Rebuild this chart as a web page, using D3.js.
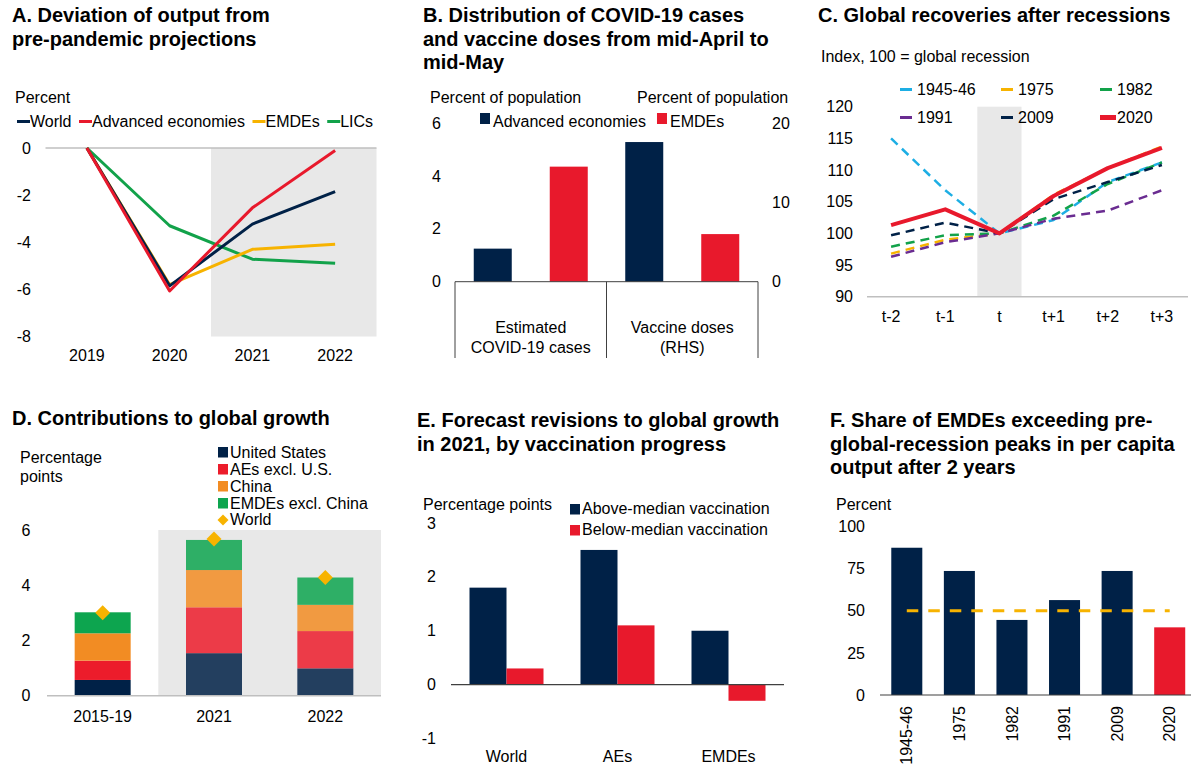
<!DOCTYPE html>
<html>
<head>
<meta charset="utf-8">
<script src="https://cdn.jsdelivr.net/npm/d3@7"></script>
<style>
  html, body { margin: 0; padding: 0; background: #fff; }
  svg { display: block; font-family: "Liberation Sans", Arial, sans-serif; }
  .title { font-weight: bold; font-size: 20px; fill: #000; }
  .lbl { font-size: 16px; fill: #000; }
</style>
</head>
<body>
<svg id="chart" width="1191" height="767"></svg>
<script>
// ---------- Data ----------
// Panel A: deviation of output from pre-pandemic projections (percent)
const aYears = ["2019", "2020", "2021", "2022"];
const aWorld = [0, -5.85, -3.23, -1.85];
const aAdvanced = [0, -6.07, -2.54, -0.11];
const aEMDEs = [0, -5.8, -4.3, -4.09];
const aLICs = [0, -3.3, -4.72, -4.89];
const aTicks = [0, -2, -4, -6, -8];

// Panel B: COVID-19 cases (LHS) and vaccine doses (RHS), percent of population
const bCategories = ["Estimated\nCOVID-19 cases", "Vaccine doses\n(RHS)"];
const bAdvanced = [1.25, 17.6];
const bEMDEs = [4.35, 6.0];
const bLeftTicks = [0, 2, 4, 6];
const bRightTicks = [0, 10, 20];

// Panel C: global recoveries, index 100 = global recession year
const cPeriods = ["t-2", "t-1", "t", "t+1", "t+2", "t+3"];
const c1945 = [115.0, 106.8, 100, 102.1, 108.1, 111.2];
const c1975 = [96.8, 99.0, 100, 106.1, 110.3, 113.7];
const c1982 = [97.9, 99.7, 100, 102.8, 107.8, 111.2];
const c1991 = [96.3, 98.6, 100, 102.3, 103.6, 106.8];
const c2009 = [99.7, 101.7, 100, 105.4, 108.1, 110.8];
const c2020 = [101.3, 103.8, 100, 105.9, 110.3, 113.5];
const cTicks = [90, 95, 100, 105, 110, 115, 120];

// Panel D: contributions to global growth (percentage points)
const dPeriods = ["2015-19", "2021", "2022"];
const dUS = [0.57, 1.54, 0.99];
const dAEsExUS = [0.70, 1.66, 1.35];
const dChina = [0.99, 1.35, 0.95];
const dEMDEsExChina = [0.76, 1.09, 0.99];
const dWorld = [3.0, 5.67, 4.28];
const dTicks = [0, 2, 4, 6];

// Panel E: forecast revisions to 2021 global growth (percentage points)
const eGroups = ["World", "AEs", "EMDEs"];
const eAbove = [1.8, 2.5, 1.0];
const eBelow = [0.3, 1.1, -0.3];
const eTicks = [-1, 0, 1, 2, 3];

// Panel F: share of EMDEs exceeding pre-recession peaks after 2 years (percent)
const fRecessions = ["1945-46", "1975", "1982", "1991", "2009", "2020"];
const fShare = [87.5, 73.7, 44.6, 56.4, 73.7, 40.2];
const fReference = 50;
const fTicks = [0, 25, 50, 75, 100];

// ---------- Palette ----------
const NAVY = "#002147", RED = "#E8192C", AMBER = "#F7B300", GREEN = "#12A24A",
      SKY = "#1DAEE4", PURPLE = "#6A2C91", ORANGE = "#F28C23", SHADE = "#E8E8E8",
      AXIS_LIGHT = "#BFBFBF", AXIS_DARK = "#404040";

const svg = d3.select("#chart");

function title(x, y, lines) {
  const t = svg.append("text").attr("class", "title").attr("x", x).attr("y", y);
  lines.forEach((s, i) => t.append("tspan").attr("x", x).attr("dy", i ? 23.5 : 0).text(s));
}
function label(g, x, y, s, anchor) {
  return g.append("text").attr("class", "lbl").attr("x", x).attr("y", y)
    .attr("text-anchor", anchor || "start").text(s);
}
function yTickLabels(g, scale, ticks, x, anchor, fmt) {
  g.selectAll(null).data(ticks).join("text").attr("class", "lbl")
    .attr("x", x).attr("y", d => scale(d)).attr("dy", "0.35em")
    .attr("text-anchor", anchor).text(fmt || (d => d));
}

// ================= Panel A =================
(function () {
  const g = svg.append("g");
  title(12, 22, ["A. Deviation of output from", "pre-pandemic projections"]);
  const xb = d3.scaleBand().domain(aYears).range([45.5, 376.5]);
  const x = d => xb(d) + xb.bandwidth() / 2;
  const y = d3.scaleLinear().domain([-8, 0]).range([336.5, 148]);

  // projection period shading
  g.append("rect").attr("x", xb("2021")).attr("y", y(0))
    .attr("width", xb.range()[1] - xb("2021")).attr("height", y(-8) - y(0)).attr("fill", SHADE);
  g.append("line").attr("x1", xb.range()[0]).attr("x2", xb.range()[1])
    .attr("y1", y(0)).attr("y2", y(0)).attr("stroke", AXIS_LIGHT).attr("stroke-width", 1.5);

  yTickLabels(g, y, aTicks, 31, "end");
  g.selectAll(null).data(aYears).join("text").attr("class", "lbl")
    .attr("x", d => x(d)).attr("y", 361).attr("text-anchor", "middle").text(d => d);

  label(g, 15, 103, "Percent");

  const series = [
    { name: "World", values: aWorld, color: NAVY },
    { name: "Advanced economies", values: aAdvanced, color: RED },
    { name: "EMDEs", values: aEMDEs, color: AMBER },
    { name: "LICs", values: aLICs, color: GREEN }
  ];
  const line = d3.line().x((d, i) => x(aYears[i])).y(d => y(d));
  // draw LICs first so the main aggregates sit on top
  [3, 2, 0, 1].forEach(k => {
    g.append("path").attr("d", line(series[k].values)).attr("fill", "none")
      .attr("stroke", series[k].color).attr("stroke-width", 3).attr("stroke-linejoin", "round");
  });

  // legend
  let lx = 17;
  series.forEach(s => {
    g.append("line").attr("x1", lx).attr("x2", lx + 13).attr("y1", 121.5).attr("y2", 121.5)
      .attr("stroke", s.color).attr("stroke-width", 3);
    const t = label(g, lx + 13, 127, s.name);
    lx += 13 + t.node().getComputedTextLength() + 7.5;
  });
})();

// ================= Panel B =================
(function () {
  const g = svg.append("g");
  title(423, 22, ["B. Distribution of COVID-19 cases", "and vaccine doses from mid-April to", "mid-May"]);
  const x = d3.scaleBand().domain(bCategories).range([455, 758]);
  const inner = d3.scaleBand().domain(["AE", "EMDE"]).range([-57, 57]).paddingInner(0.5);
  const yL = d3.scaleLinear().domain([0, 6]).range([281.7, 123]);
  const yR = d3.scaleLinear().domain([0, 20]).range([281.7, 123]);

  bCategories.forEach((c, i) => {
    const cx = x(c) + x.bandwidth() / 2;
    const ys = i === 0 ? yL : yR;
    [["AE", bAdvanced[i], NAVY], ["EMDE", bEMDEs[i], RED]].forEach(([k, v, col]) => {
      g.append("rect").attr("x", cx + inner(k)).attr("width", inner.bandwidth())
        .attr("y", ys(v)).attr("height", ys(0) - ys(v)).attr("fill", col);
    });
    const t = g.append("text").attr("class", "lbl").attr("text-anchor", "middle");
    c.split("\n").forEach((s, j) => t.append("tspan").attr("x", cx).attr("y", 333 + j * 20).text(s));
  });

  // axis and category dividers
  g.append("line").attr("x1", 455).attr("x2", 758).attr("y1", yL(0)).attr("y2", yL(0))
    .attr("stroke", AXIS_DARK).attr("stroke-width", 1);
  [455, x(bCategories[1]), 758].forEach(v => {
    g.append("line").attr("x1", v).attr("x2", v).attr("y1", yL(0)).attr("y2", 358)
      .attr("stroke", AXIS_DARK).attr("stroke-width", 1);
  });

  yTickLabels(g, yL, bLeftTicks, 432, "start");
  yTickLabels(g, yR, bRightTicks, 772, "start");
  label(g, 430, 103, "Percent of population");
  label(g, 637, 103, "Percent of population");

  g.append("rect").attr("x", 480).attr("y", 113).attr("width", 10).attr("height", 11).attr("fill", NAVY);
  const t1 = label(g, 493, 127, "Advanced economies");
  const rx = 493 + t1.node().getComputedTextLength() + 11;
  g.append("rect").attr("x", rx).attr("y", 113).attr("width", 10).attr("height", 11).attr("fill", RED);
  label(g, rx + 13, 127, "EMDEs");
})();

// ================= Panel C =================
(function () {
  const g = svg.append("g");
  title(818, 22, ["C. Global recoveries after recessions"]);
  const xb = d3.scaleBand().domain(cPeriods).range([864, 1189]);
  const x = d => xb(d) + xb.bandwidth() / 2;
  const y = d3.scaleLinear().domain([90, 120]).range([296.7, 106.7]);

  g.append("rect").attr("x", xb("t") + 5).attr("width", xb.bandwidth() - 10)
    .attr("y", y(120)).attr("height", y(90) - y(120)).attr("fill", SHADE);
  g.append("line").attr("x1", 867).attr("x2", 1188).attr("y1", y(90)).attr("y2", y(90))
    .attr("stroke", AXIS_LIGHT).attr("stroke-width", 1.5);

  yTickLabels(g, y, cTicks, 853, "end");
  g.selectAll(null).data(cPeriods).join("text").attr("class", "lbl")
    .attr("x", d => x(d)).attr("y", 322).attr("text-anchor", "middle").text(d => d);
  label(g, 821, 62, "Index, 100 = global recession");

  const series = [
    { name: "1945-46", values: c1945, color: SKY, dashed: true },
    { name: "1975", values: c1975, color: AMBER, dashed: true },
    { name: "1982", values: c1982, color: GREEN, dashed: true },
    { name: "1991", values: c1991, color: PURPLE, dashed: true },
    { name: "2009", values: c2009, color: NAVY, dashed: true },
    { name: "2020", values: c2020, color: RED, dashed: false }
  ];
  const line = d3.line().x((d, i) => x(cPeriods[i])).y(d => y(d));
  series.forEach(s => {
    g.append("path").attr("d", line(s.values)).attr("fill", "none")
      .attr("stroke", s.color).attr("stroke-width", s.dashed ? 2.5 : 4)
      .attr("stroke-dasharray", s.dashed ? "9,6" : null).attr("stroke-linejoin", "round");
  });

  const cols = [900, 1001, 1100], rows = [95, 123];
  series.forEach((s, i) => {
    const lx = cols[i % 3], ly = rows[Math.floor(i / 3)];
    g.append("line").attr("x1", lx).attr("x2", lx + (s.dashed ? 12 : 16))
      .attr("y1", ly - 5.5).attr("y2", ly - 5.5).attr("stroke", s.color)
      .attr("stroke-width", s.dashed ? 3 : 5);
    label(g, lx + 17, ly, s.name);
  });
})();

// ================= Panel D =================
(function () {
  const g = svg.append("g");
  title(12, 425, ["D. Contributions to global growth"]);
  const xb = d3.scaleBand().domain(dPeriods).range([47, 381]);
  const x = d => xb(d) + xb.bandwidth() / 2;
  const y = d3.scaleLinear().domain([0, 6]).range([695.7, 530]);
  const barW = 56;

  g.append("rect").attr("x", xb("2021")).attr("width", 381 - xb("2021"))
    .attr("y", y(6)).attr("height", y(0) - y(6)).attr("fill", SHADE);

  const parts = [
    { name: "United States", values: dUS, color: NAVY },
    { name: "AEs excl. U.S.", values: dAEsExUS, color: "#EC1C2B" },
    { name: "China", values: dChina, color: ORANGE },
    { name: "EMDEs excl. China", values: dEMDEsExChina, color: "#0DA54F" }
  ];
  const table = dPeriods.map((p, i) => {
    const row = { period: p };
    parts.forEach(s => row[s.name] = s.values[i]);
    return row;
  });
  const stack = d3.stack().keys(parts.map(s => s.name))(table);
  stack.forEach((layer, k) => {
    g.selectAll(null).data(layer).join("rect")
      .attr("x", d => x(d.data.period) - barW / 2).attr("width", barW)
      .attr("y", d => y(d[1])).attr("height", d => y(d[0]) - y(d[1]))
      .attr("fill", parts[k].color)
      .attr("fill-opacity", d => d.data.period === "2015-19" ? 1 : 0.85);
  });

  g.append("line").attr("x1", 47).attr("x2", 381).attr("y1", y(0)).attr("y2", y(0))
    .attr("stroke", AXIS_LIGHT).attr("stroke-width", 1.5);

  const diamond = (cx, cy, r) => `M${cx},${cy - r}L${cx + r},${cy}L${cx},${cy + r}L${cx - r},${cy}Z`;
  g.selectAll(null).data(dWorld).join("path")
    .attr("d", (d, i) => diamond(x(dPeriods[i]), y(d), 7.5)).attr("fill", AMBER);

  yTickLabels(g, y, dTicks, 26, "middle");
  g.selectAll(null).data(dPeriods).join("text").attr("class", "lbl")
    .attr("x", d => x(d)).attr("y", 722).attr("text-anchor", "middle").text(d => d);
  label(g, 20, 463, "Percentage");
  label(g, 20, 482, "points");

  parts.forEach((s, i) => {
    const ly = 458 + i * 17;
    g.append("rect").attr("x", 218).attr("y", ly - 11).attr("width", 10).attr("height", 10.5).attr("fill", s.color);
    label(g, 230, ly, s.name);
  });
  g.append("path").attr("d", diamond(223, 520, 5.5)).attr("fill", AMBER);
  label(g, 230, 525, "World");
})();

// ================= Panel E =================
(function () {
  const g = svg.append("g");
  title(417, 427, ["E. Forecast revisions to global growth", "in 2021, by vaccination progress"]);
  const x = d3.scaleBand().domain(eGroups).range([451, 784]);
  const inner = d3.scaleBand().domain(["above", "below"]).range([-37, 37]);
  const y = d3.scaleLinear().domain([-1, 3]).range([738.5, 523]);

  eGroups.forEach((grp, i) => {
    const cx = x(grp) + x.bandwidth() / 2;
    [["above", eAbove[i], NAVY], ["below", eBelow[i], RED]].forEach(([k, v, col]) => {
      g.append("rect").attr("x", cx + inner(k)).attr("width", inner.bandwidth())
        .attr("y", y(Math.max(0, v))).attr("height", Math.abs(y(v) - y(0))).attr("fill", col);
    });
  });
  g.append("line").attr("x1", 451).attr("x2", 784).attr("y1", y(0)).attr("y2", y(0))
    .attr("stroke", AXIS_DARK).attr("stroke-width", 1.2);

  yTickLabels(g, y, eTicks, 436, "end");
  g.selectAll(null).data(eGroups).join("text").attr("class", "lbl")
    .attr("x", d => x(d) + x.bandwidth() / 2).attr("y", 762).attr("text-anchor", "middle").text(d => d);
  label(g, 423, 510, "Percentage points");

  [["Above-median vaccination", NAVY, 514], ["Below-median vaccination", RED, 535]].forEach(([n, c, ly]) => {
    g.append("rect").attr("x", 570).attr("y", ly - 10).attr("width", 10).attr("height", 10.5).attr("fill", c);
    label(g, 582, ly, n);
  });
})();

// ================= Panel F =================
(function () {
  const g = svg.append("g");
  title(830, 427, ["F. Share of EMDEs exceeding pre-", "global-recession peaks in per capita", "output after 2 years"]);
  const xb = d3.scaleBand().domain(fRecessions).range([880.5, 1196]);
  const x = d => xb(d) + xb.bandwidth() / 2;
  const y = d3.scaleLinear().domain([0, 100]).range([695, 526.7]);
  const barW = xb.bandwidth() * 0.59;

  g.selectAll(null).data(fShare).join("rect")
    .attr("x", (d, i) => x(fRecessions[i]) - barW / 2).attr("width", barW)
    .attr("y", d => y(d)).attr("height", d => y(0) - y(d))
    .attr("fill", (d, i) => fRecessions[i] === "2020" ? RED : NAVY);

  g.append("line").attr("x1", 880).attr("x2", 1191).attr("y1", y(0)).attr("y2", y(0))
    .attr("stroke", AXIS_DARK).attr("stroke-width", 1.2);
  g.append("line").attr("x1", x(fRecessions[0])).attr("x2", x(fRecessions[fRecessions.length - 1]))
    .attr("y1", y(fReference)).attr("y2", y(fReference))
    .attr("stroke", AMBER).attr("stroke-width", 3).attr("stroke-dasharray", "11.5,10");

  yTickLabels(g, y, fTicks, 865, "end");
  g.selectAll(null).data(fRecessions).join("text").attr("class", "lbl")
    .attr("transform", d => `translate(${x(d)},706) rotate(-90)`)
    .attr("dy", "0.35em").attr("text-anchor", "end").text(d => d);
  label(g, 836, 510, "Percent");
})();
</script>
</body>
</html>
